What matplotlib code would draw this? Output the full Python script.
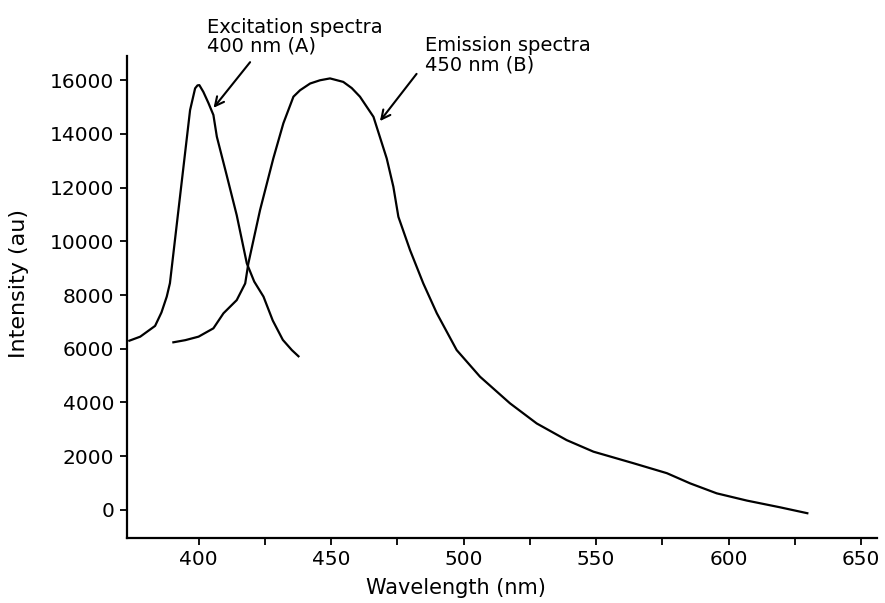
import matplotlib
matplotlib.use("Agg")
import matplotlib.pyplot as plt

plt.rcParams['font.family'] = ['DejaVu Sans']

# excitation spectrum (A)
ex_wavelength = [373.9, 378, 383.6, 386, 388, 389.2, 393, 396.8, 398.7, 399.6, 400.3, 401.8,
                 403.7, 405.6, 406.9, 410.5, 414.4, 418.2, 421, 424.5, 428, 431.8,
                 435.2, 437.7]
ex_intensity = [6300, 6450, 6850, 7350, 7940, 8440, 11660, 14880, 15690, 15800, 15810, 15560,
                15150, 14700, 13890, 12500, 10970, 9180, 8500, 7940, 7050, 6330,
                5950, 5720]

# emission spectrum (B)
em_wavelength = [390.5, 395, 400, 405.6, 409.4, 414.4, 417.6, 418.8, 423.2, 428.2, 432,
                 435.8, 438.3, 442.1, 445.8, 449.6, 454.6, 457.8, 460.9, 466, 471, 473.5,
                 475.4, 479.8, 484.8, 489.9, 497.4, 506.2, 517.5, 527.6, 538.9, 549,
                 564.1, 576.7, 585.5, 595.5, 606.9, 619.4, 629.7]
em_intensity = [6240, 6320, 6450, 6760, 7320, 7810, 8430, 9180, 11160, 13080, 14390,
                15380, 15620, 15870, 15990, 16060, 15930, 15700, 15380, 14630, 13080, 12030,
                10910, 9670, 8430, 7320, 5950, 4960, 3970, 3220, 2600, 2170,
                1740, 1370, 990, 620, 350, 100, -120]

x_ticks = [400, 450, 500, 550, 600, 650]
x_minor = [425, 475, 525, 575, 625]
y_ticks = list(range(0, 16001, 2000))

fig = plt.figure(figsize=(8.85, 6.03), dpi=100)
ax = fig.add_axes([0.1435, 0.1078, 0.8475, 0.7993])

ax.plot(ex_wavelength, ex_intensity, color="black", lw=1.6)
ax.plot(em_wavelength, em_intensity, color="black", lw=1.6)

ax.set_xlim(373, 656)
ax.set_ylim(-1042, 16893)
ax.set_yticks(y_ticks)
ax.set_xticks(x_ticks)
ax.set_xticks(x_minor, minor=True)

for side in ["top", "right"]:
    ax.spines[side].set_visible(False)
for side in ["left", "bottom"]:
    ax.spines[side].set_linewidth(1.6)

ax.tick_params(axis="both", which="both", direction="out", length=5, width=1.3,
               labelsize=14.5, pad=4)

ax.set_xlabel("Wavelength (nm)", fontsize=15)
ax.set_ylabel("Intensity (au)", fontsize=16)
ax.xaxis.set_label_coords(0.439, -0.083)
ax.yaxis.set_label_coords(-0.130, 0.529)

# annotations with arrows
ax.annotate("", xy=(405, 14884), xytext=(420.1, 16745),
            arrowprops=dict(arrowstyle="->", lw=1.5, color="black", mutation_scale=16),
            annotation_clip=False)
ax.annotate("", xy=(467.8, 14390), xytext=(482.9, 16310),
            arrowprops=dict(arrowstyle="->", lw=1.5, color="black", mutation_scale=16),
            annotation_clip=False)
ax.text(403.1, 17050, "Excitation spectra\n400 nm (A)", fontsize=14,
        ha="left", va="baseline", linespacing=1.0, clip_on=False)
ax.text(485.5, 16370, "Emission spectra\n450 nm (B)", fontsize=14,
        ha="left", va="baseline", linespacing=1.0, clip_on=False)

fig.savefig("out.png", dpi=100)
